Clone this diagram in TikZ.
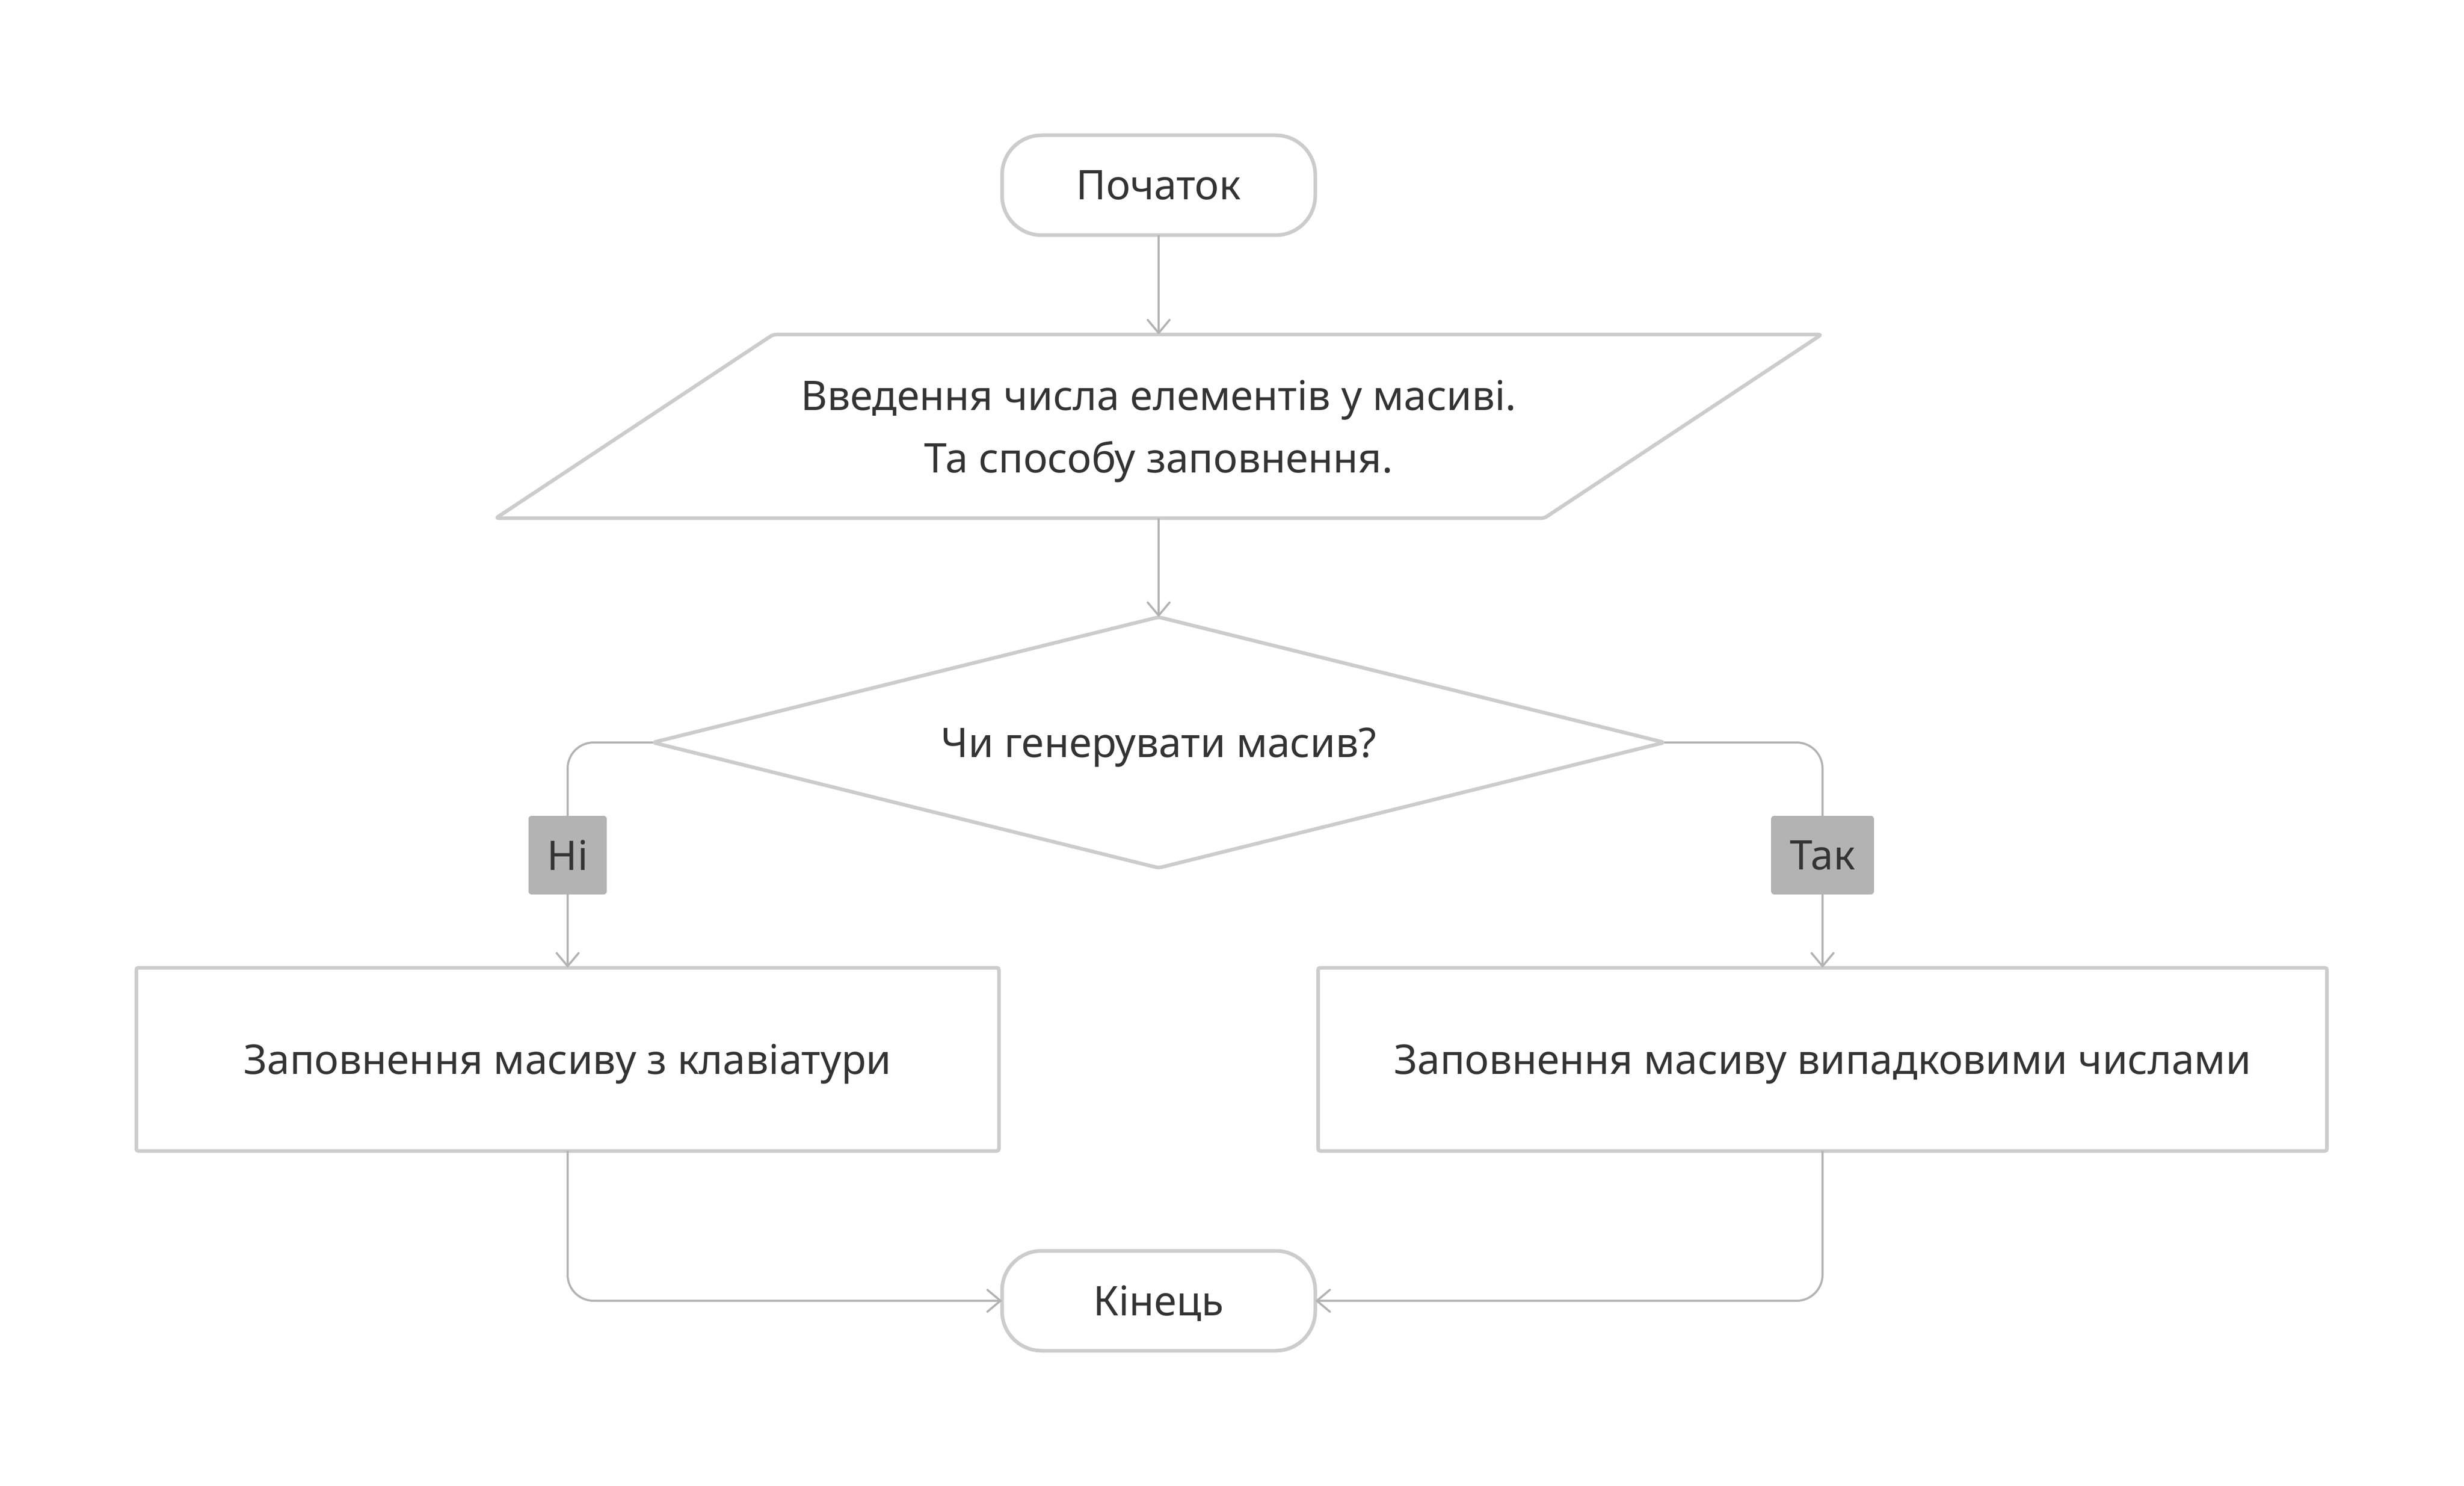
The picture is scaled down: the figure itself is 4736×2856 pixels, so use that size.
\documentclass[tikz,border=0pt]{standalone}
\usepackage{fontspec}
\setmainfont{Noto Sans}
\usetikzlibrary{shapes.geometric,arrows.meta}
\definecolor{edge}{HTML}{CCCCCC}
\definecolor{wire}{HTML}{B3B3B3}
\definecolor{ink}{HTML}{333333}
\begin{document}
\begin{tikzpicture}[x=0.25pt, y=-0.25pt,
		every node/.style={font=\fontsize{19.6}{30}\selectfont, text=ink, text depth=0pt, outer sep=0pt},
		term/.style={draw=edge, line width=1.75pt, rounded corners=19pt, minimum width=150.5pt, minimum height=48pt},
		proc/.style={draw=edge, line width=1.75pt, rounded corners=1pt, minimum height=88pt},
		cond/.style={diamond, aspect=4.03, draw=edge, line width=1.75pt, rounded corners=1.5pt, minimum width=486pt, minimum height=120.5pt, inner sep=0pt},
		ans/.style={fill=wire, rounded corners=1.5pt, inner xsep=9pt, minimum height=37.75pt},
		flow/.style={draw=wire, line width=1pt, rounded corners=12.5pt, -{Straight Barb[length=6.25pt, width=10.5pt, line cap=round]}}]
			\useasboundingbox (0,0) rectangle (4736,2856);

			\node[term] (start) at (2227, 356) {Початок};
			\node[minimum width=637pt, minimum height=88.25pt, align=center] (input) at (2227, 819.5) {Введення числа елементів у масиві.\\Та способу заповнення.};
			\node[cond] (choice) at (2227, 1427) {Чи генерувати масив?};
			\node[proc, minimum width=414.5pt] (manual) at (1091, 2036) {Заповнення масиву з клавіатури};
			\node[proc, minimum width=484.75pt] (random) at (3503, 2036) {Заповнення масиву випадковими числами};
			\node[term] (finish) at (2227, 2500) {Кінець};

			\draw[draw=edge, line width=1.75pt, rounded corners=1.5pt] ([xshift=133.25pt]input.north west) -- (input.north east) -- ([xshift=-133.25pt]input.south east) -- (input.south west) -- cycle;

			\draw[flow] (start.south) -- (input.north);
			\draw[flow] (input.south) -- (choice.north);
			\draw[flow] (choice.west) -| node[ans, pos=0.75] {Ні} (manual.north);
			\draw[flow] (choice.east) -| node[ans, pos=0.75] {Так} (random.north);
			\draw[flow] (manual.south) |- (finish.west);
			\draw[flow] (random.south) |- (finish.east);
		\end{tikzpicture}
\end{document}
